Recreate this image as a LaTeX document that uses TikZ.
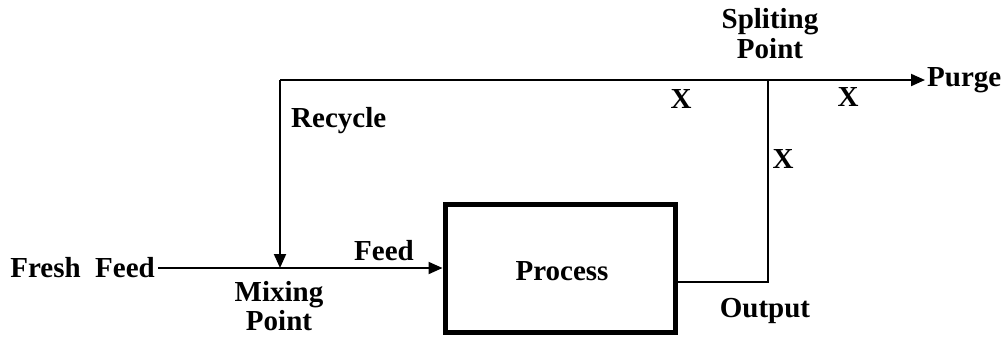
\documentclass[tikz,border=0pt]{standalone}
\usepackage{fontspec}
\setmainfont{Liberation Serif}
\usetikzlibrary{arrows.meta}
\begin{document}
\begin{tikzpicture}[x=1pt,y=-1pt,
  lbl/.style={font=\fontsize{29}{30}\selectfont\bfseries, inner sep=0pt, align=center},
  flow/.style={line width=2pt},
  arr/.style={flow,-{Triangle[length=14pt,width=12pt]}},
  procbox/.style={draw, line width=5pt, minimum width=230pt, minimum height=128pt, inner sep=0pt}]
\useasboundingbox (0,0) rectangle (1003,338);
\node[procbox] (proc) at (560,268) {};
\node[lbl] (ptxt) at (562,271) {Process};
\node[lbl, anchor=east] (fresh) at (155,268) {Fresh\ \ Feed};
\coordinate (mix) at (280,268);
\coordinate (rtop) at (280,80);
\coordinate (split) at (768,80);
\coordinate (oc) at (768,282);
\coordinate (purge) at (925,80);
\node[lbl, anchor=west] (purgetxt) at (927,80) {Purge};
\draw[flow] (fresh.east) ++(3,0) -- (mix);
\draw[arr] (mix) -- (proc.west |- mix);
\draw[flow] (proc.east |- oc) -- (oc) -- (split);
\draw[flow] (rtop) -- (split);
\draw[arr] (split) -- (purge);
\draw[arr] (rtop) -- (mix);
\node[lbl] (feed) at (384,251) {Feed};
\node[lbl] (mixing) at (279,306) {Mixing\\[-1pt]Point};
\node[lbl, anchor=west] (recycle) at (291,121) {Recycle};
\node[lbl] (output) at (765,311) {Output};
\node[lbl] (splitting) at (770,34) {Spliting\\[0pt]Point};
\node[lbl] (x1) at (681,99) {X};
\node[lbl] (x2) at (848,97) {X};
\node[lbl] (x3) at (783,159) {X};
\end{tikzpicture}
\end{document}
